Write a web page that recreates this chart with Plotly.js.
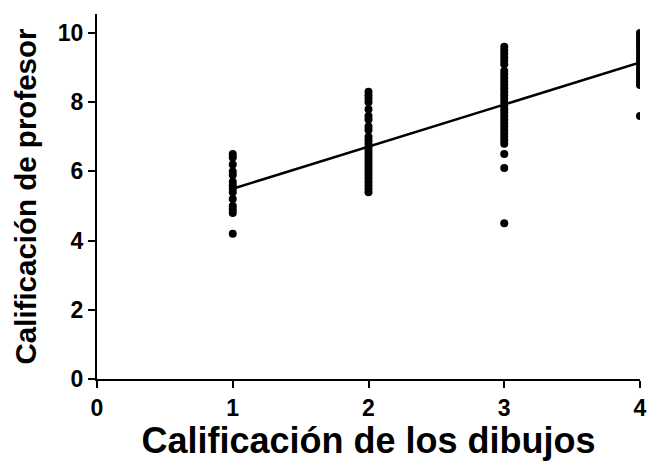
<!DOCTYPE html>
<html>
<head>
<meta charset="utf-8">
<script src="https://cdn.plot.ly/plotly-3.0.1.min.js"></script>
<style>html,body{margin:0;padding:0;background:#fff;}#chart{width:648px;height:461px;}</style>
</head>
<body>
<div id="chart"></div>
<script>
// Data
const groups = [1, 2, 3, 4];
const group1 = [6.5, 6.4, 6.2, 6.0, 5.9, 5.7, 5.6, 5.5, 5.4, 5.2, 5.0, 4.9, 4.8, 4.2];
const group2 = [8.3, 8.2, 8.1, 8.0, 7.8, 7.6, 7.5, 7.3, 7.2, 7.0, 6.9, 6.8, 6.7, 6.6, 6.5, 6.4, 6.3, 6.2, 6.1, 6.0, 5.9, 5.8, 5.7, 5.6, 5.5, 5.4];
const group3 = [9.6, 9.5, 9.4, 9.3, 9.2, 9.1, 8.9, 8.8, 8.7, 8.6, 8.5, 8.4, 8.3, 8.2, 8.1, 8.0, 7.9, 7.8, 7.7, 7.6, 7.5, 7.4, 7.3, 7.2, 7.1, 7.0, 6.9, 6.8, 6.5, 6.1, 4.5];
const group4 = [10.0, 9.9, 9.8, 9.7, 9.6, 9.5, 9.4, 9.3, 9.2, 9.1, 9.0, 8.9, 8.8, 8.7, 8.6, 8.5, 7.6];
const fitX = [1, 4];
const fitY = [5.5, 9.15];
const xTicks = [0, 1, 2, 3, 4];
const yTicks = [0, 2, 4, 6, 8, 10];
const xTitle = "Calificación de los dibujos";
const yTitle = "Calificación de profesor";

const groupValues = [group1, group2, group3, group4];
const xs = [], ys = [];
groupValues.forEach((vals, i) => vals.forEach(v => { xs.push(groups[i]); ys.push(v); }));

const fam = "Liberation Sans, Arial, sans-serif";
const tickFont = {family: fam, color: "#000", size: 23, weight: "bold"};

const traces = [
  {x: xs, y: ys, type: "scatter", mode: "markers", marker: {color: "#000", size: 8}, hoverinfo: "x+y"},
  {x: fitX, y: fitY, type: "scatter", mode: "lines", line: {color: "#000", width: 2.5}}
];

const layout = {
  width: 648, height: 461,
  margin: {l: 97, r: 8, t: 14, b: 82},
  paper_bgcolor: "#fff", plot_bgcolor: "#fff",
  showlegend: false,
  font: tickFont,
  xaxis: {
    range: [0, 4], tickvals: xTicks, ticktext: xTicks.map(String),
    showgrid: false, zeroline: false, showline: true, linecolor: "#000", linewidth: 2,
    ticks: "outside", ticklen: 7, tickwidth: 2, tickcolor: "#000",
    tickfont: tickFont,
    title: {text: xTitle, font: {family: fam, size: 36, color: "#000", weight: "bold"}, standoff: 4}
  },
  yaxis: {
    range: [0, 10.55], tickvals: yTicks, ticktext: yTicks.map(String),
    showgrid: false, zeroline: false, showline: true, linecolor: "#000", linewidth: 2,
    ticks: "outside", ticklen: 7, tickwidth: 2, tickcolor: "#000",
    tickfont: tickFont,
    title: {text: yTitle, font: {family: fam, size: 29.5, color: "#000", weight: "bold"}, standoff: 12}
  }
};

Plotly.newPlot("chart", traces, layout, {displayModeBar: false, staticPlot: true});
</script>
</body>
</html>
